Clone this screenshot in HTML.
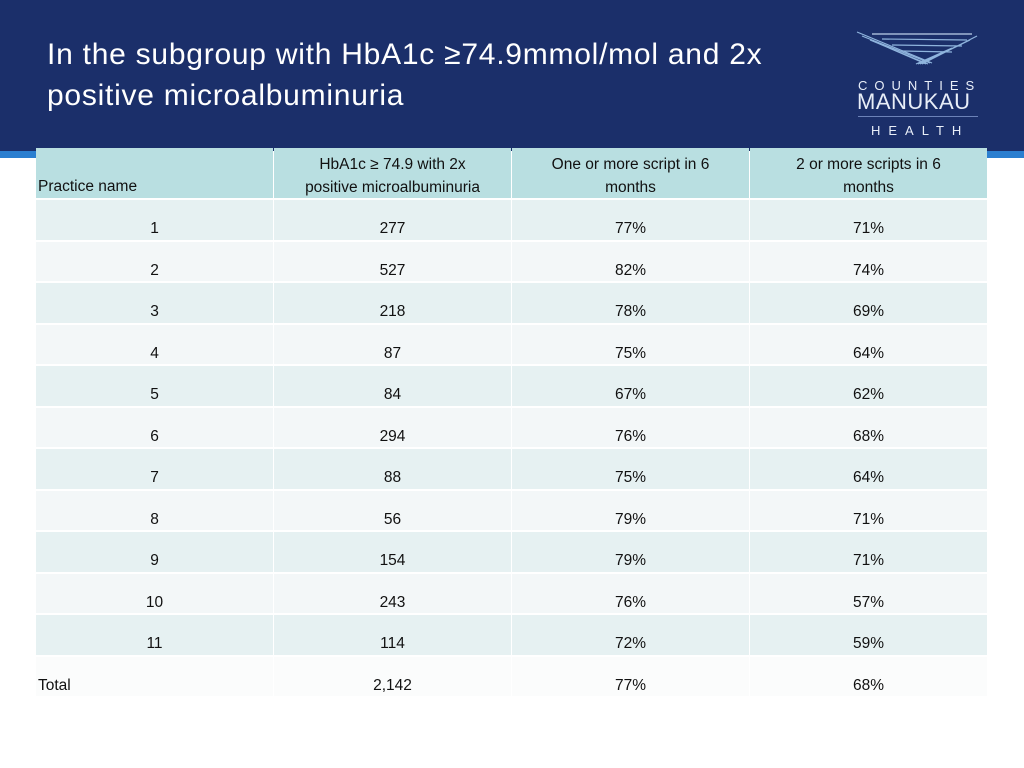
<!DOCTYPE html>
<html><head><meta charset="utf-8">
<style>
body{margin:0;width:1024px;height:768px;background:#fff;position:relative;overflow:hidden;font-family:"Liberation Sans","DejaVu Sans",sans-serif;color:#111;}
#hdr{position:absolute;left:0;top:0;width:1024px;height:151px;background:#1b2f6a;}
#title{position:absolute;left:47px;top:34px;color:#fff;font-size:30px;line-height:41px;letter-spacing:0.75px;}
.strip{position:absolute;top:151px;height:7px;background:#2b7fd0;}
.cell{position:absolute;box-sizing:border-box;font-size:15.5px;display:flex;align-items:center;justify-content:center;text-align:center;line-height:23px;}
.logo{position:absolute;color:#e8eef8;font-size:12px;}
</style></head><body>
<div id="hdr"></div>
<div id="title">In the subgroup with HbA1c ≥74.9mmol/mol and 2x<br>positive microalbuminuria</div>
<div class="strip" style="left:0;width:37px"></div>
<div class="strip" style="left:987px;width:37px"></div>
<svg style="position:absolute;left:852px;top:26px" width="130" height="40">
<g stroke="#9cc3ea" stroke-width="1.2" opacity="0.9">
<line x1="5" y1="6" x2="80" y2="37"/><line x1="10" y1="10" x2="78" y2="37"/><line x1="18" y1="14" x2="76" y2="38"/><line x1="28" y1="18" x2="74" y2="38"/>
<line x1="125" y1="10" x2="70" y2="38"/><line x1="118" y1="14" x2="68" y2="38"/><line x1="110" y1="18" x2="66" y2="38"/><line x1="100" y1="22" x2="64" y2="38"/>
<line x1="20" y1="8" x2="120" y2="8" stroke="#cfe2f7"/><line x1="30" y1="13" x2="115" y2="14"/><line x1="40" y1="19" x2="110" y2="20"/><line x1="50" y1="25" x2="100" y2="26"/>
</g></svg>
<div class="logo" style="left:858px;top:78px;font-size:13px;letter-spacing:7px">COUNTIES</div>
<div class="logo" style="left:857px;top:89px;font-size:22px;letter-spacing:0.5px">MANUKAU</div>
<div style="position:absolute;left:858px;top:116px;width:120px;height:1px;background:#6c82b8"></div>
<div class="logo" style="left:871px;top:123px;font-size:13px;letter-spacing:8px">HEALTH</div>
<div id="tbl"></div>
<script>
const practices=["1","2","3","4","5","6","7","8","9","10","11","Total"];
const counts=["277","527","218","87","84","294","88","56","154","243","114","2,142"];
const oneScript=["77%","82%","78%","75%","67%","76%","75%","79%","79%","76%","72%","77%"];
const twoScripts=["71%","74%","69%","64%","62%","68%","64%","71%","71%","57%","59%","68%"];
const headers=["Practice name","HbA1c ≥ 74.9 with 2x<br>positive microalbuminuria","One or more script in 6<br>months","2 or more scripts in 6<br>months"];
const tbl=document.getElementById('tbl');
const colX=[36,274,512,750],colW=[237,237,237,237];
function cell(x,y,w,h,html,bg,extra){const d=document.createElement('div');d.className='cell';
d.style.cssText=`left:${x}px;top:${y}px;width:${w}px;height:${h}px;background:${bg};`+(extra||'');d.innerHTML=html;tbl.appendChild(d);return d;}
headers.forEach((h,i)=>{const d=cell(colX[i],148,colW[i],50,h,'#b9dfe1',i==0?'justify-content:flex-start;align-items:flex-end;padding:0 0 0 2px;':'padding-top:6px;');

});
const rowH=41.5;
practices.forEach((p,r)=>{const y=200+r*rowH;const total=p==='Total';
const bg=total?'#fbfcfc':(r%2==0?'#e6f1f2':'#f3f7f8');
[p,counts[r],oneScript[r],twoScripts[r]].forEach((v,c)=>{
const d=cell(colX[c],y,colW[c],rowH-2,v,bg,'padding-top:18px;'+((total&&c==0)?'justify-content:flex-start;padding-left:2px;':''));

});});
</script>
</body></html>
